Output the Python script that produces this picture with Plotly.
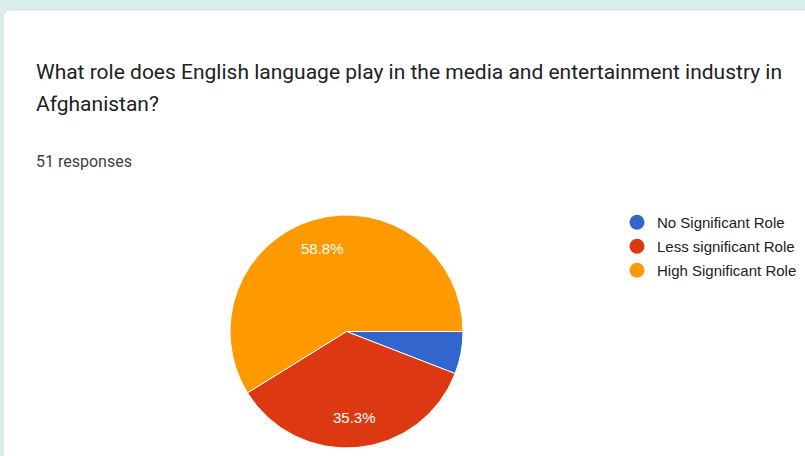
import math
import plotly.graph_objects as go

# Survey results
labels = ["No Significant Role", "Less significant Role", "High Significant Role"]
responses = [3, 18, 30]
colors = ["#3366cc", "#dc3912", "#ff9900"]
question_lines = [
    "What role does English language play in the media and entertainment industry in",
    "Afghanistan?",
]
response_note = f"{sum(responses)} responses"

W, H = 805, 456
START_ANGLE = 90  # first slice starts at 3 o'clock, clockwise


def px(x):
    return x / W


def py(y):
    return 1 - y / H


# Pie placement in pixels
cx, cy, rad = 346.5, 331.5, 116.5

fig = go.Figure()

fig.add_trace(go.Pie(
    labels=labels,
    values=responses,
    sort=False,
    direction="clockwise",
    rotation=START_ANGLE,
    marker=dict(colors=colors, line=dict(color="white", width=1)),
    textinfo="none",
    domain=dict(x=[px(cx - rad), px(cx + rad)], y=[py(cy + rad), py(cy - rad)]),
    showlegend=False,
    hoverinfo="skip",
))

# Circle legend entries
for name, c in zip(labels, colors):
    fig.add_trace(go.Scatter(
        x=[None], y=[None], mode="markers", name=name, legendgroup=name,
        marker=dict(size=15, color=c, symbol="circle"),
    ))

# Card background with rounded top-left corner
r = 8
x0, y0, x1, y1 = 3, 10, 820, 470
card = (f"M {px(x0)} {py(y0 + r)} Q {px(x0)} {py(y0)} {px(x0 + r)} {py(y0)} "
        f"L {px(x1)} {py(y0)} L {px(x1)} {py(y1)} L {px(x0)} {py(y1)} Z")

annotations = []
for i, line in enumerate(question_lines):
    annotations.append(dict(
        text=line, x=px(34), y=py(72 + 32 * i), xref="paper", yref="paper",
        xanchor="left", yanchor="middle", showarrow=False,
        font=dict(family="Roboto", size=21, color="#202124"),
    ))
annotations.append(dict(
    text=response_note, x=px(34), y=py(161), xref="paper", yref="paper",
    xanchor="left", yanchor="middle", showarrow=False,
    font=dict(family="Roboto", size=16, color="#3c4043"),
))

# Percentage labels placed along each slice's bisector
total = sum(responses)
cum = 0
for v in responses:
    share = v / total
    theta = math.radians(START_ANGLE + 360 * (cum + v / 2) / total)
    cum += v
    if share < 0.1:
        continue
    lx = cx + 0.745 * rad * math.sin(theta)
    ly = cy - 0.745 * rad * math.cos(theta)
    annotations.append(dict(
        text=f"{share * 100:.1f}%", x=px(lx), y=py(ly), xref="paper", yref="paper",
        xanchor="center", yanchor="middle", showarrow=False,
        font=dict(family="Arial", size=15, color="white"),
    ))

fig.update_layout(
    width=W, height=H,
    margin=dict(l=0, r=0, t=0, b=0),
    paper_bgcolor="#d9efed",
    plot_bgcolor="rgba(0,0,0,0)",
    xaxis=dict(visible=False),
    yaxis=dict(visible=False),
    shapes=[dict(type="path", path=card, xref="paper", yref="paper",
                 fillcolor="white", line=dict(color="#dadce0", width=1),
                 layer="below")],
    annotations=annotations,
    legend=dict(
        x=px(617), y=py(206), xanchor="left", yanchor="top",
        font=dict(family="Arial", size=15, color="#222222"),
        bgcolor="rgba(0,0,0,0)", tracegroupgap=1.5,
    ),
)

fig.write_html("out.html")
